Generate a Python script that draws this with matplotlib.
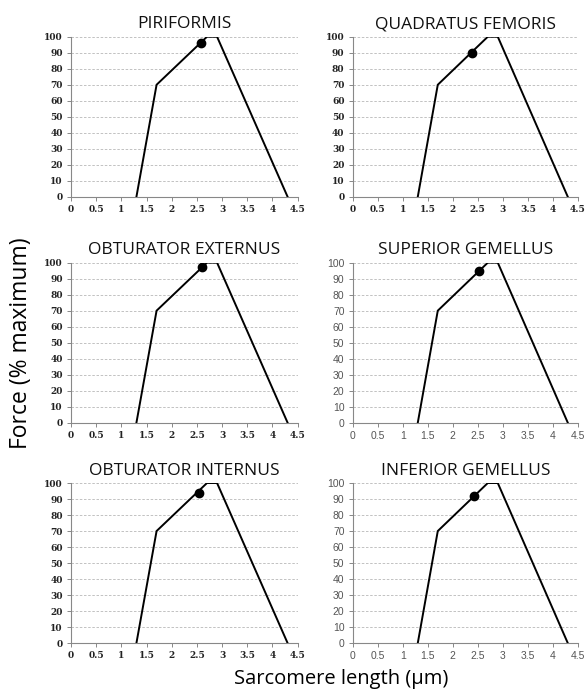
import numpy as np
import matplotlib
matplotlib.use("Agg")
import matplotlib.pyplot as plt

# force-length relationship (sarcomere length in um, force in % max)
curve_x = [1.3, 1.7, 2.7, 2.9, 4.3]
curve_y = [0, 70, 100, 100, 0]

muscles = ["PIRIFORMIS", "QUADRATUS FEMORIS",
           "OBTURATOR EXTERNUS", "SUPERIOR GEMELLUS",
           "OBTURATOR INTERNUS", "INFERIOR GEMELLUS"]
optimal_x = [2.58, 2.38, 2.60, 2.52, 2.54, 2.43]
optimal_y = [96, 90, 97, 94.5, 94, 92]
bold_ticks = [True, True, True, False, True, False]

x_ticks = [0, 0.5, 1, 1.5, 2, 2.5, 3, 3.5, 4, 4.5]
x_labels = ["0", "0.5", "1", "1.5", "2", "2.5", "3", "3.5", "4", "4.5"]
y_ticks = list(range(0, 101, 10))

fig = plt.figure(figsize=(5.86, 6.93), dpi=100)

lefts = [0.121, 0.602]
widths = [0.387, 0.384]
bottoms = [0.716, 0.390, 0.072]
height = 0.231

for i, name in enumerate(muscles):
    row, col = divmod(i, 2)
    ax = fig.add_axes([lefts[col], bottoms[row], widths[col], height])
    ax.plot(curve_x, curve_y, color="black", lw=1.4, solid_joinstyle="miter", zorder=3)
    ax.plot(optimal_x[i], optimal_y[i], "o", color="black", ms=6, zorder=4)
    ax.set_xlim(0, 4.5)
    ax.set_ylim(0, 100)
    ax.set_xticks(x_ticks)
    ax.set_yticks(y_ticks)
    ax.grid(axis="y", color="#b8b8b8", ls=(0, (3, 2)), lw=0.6)
    ax.set_axisbelow(True)
    for s in ["top", "right"]:
        ax.spines[s].set_visible(False)
    for s in ["left", "bottom"]:
        ax.spines[s].set_color("#888888")
        ax.spines[s].set_linewidth(0.8)
    ax.tick_params(length=3, width=0.7, color="#888888", pad=3)
    if bold_ticks[i]:
        tick_font = dict(family="DejaVu Serif", weight="bold", size=6.5, color="#222222")
    else:
        tick_font = dict(family="Liberation Sans", size=7.5, color="#555555")
    ax.set_xticklabels(x_labels, **tick_font)
    ax.set_yticklabels([str(v) for v in y_ticks], **tick_font)
    ax.set_title(name, family="Open Sans", fontsize=12.5, pad=6, color="#111111")

fig.text(0.036, 0.505, "Force (% maximum)", rotation=90, va="center", ha="center",
         family="Open Sans", fontsize=16.5)
fig.text(0.583, 0.02, "Sarcomere length (\u00b5m)", va="center", ha="center",
         family="Open Sans", fontsize=14.5)

fig.savefig("out.png", dpi=100)
